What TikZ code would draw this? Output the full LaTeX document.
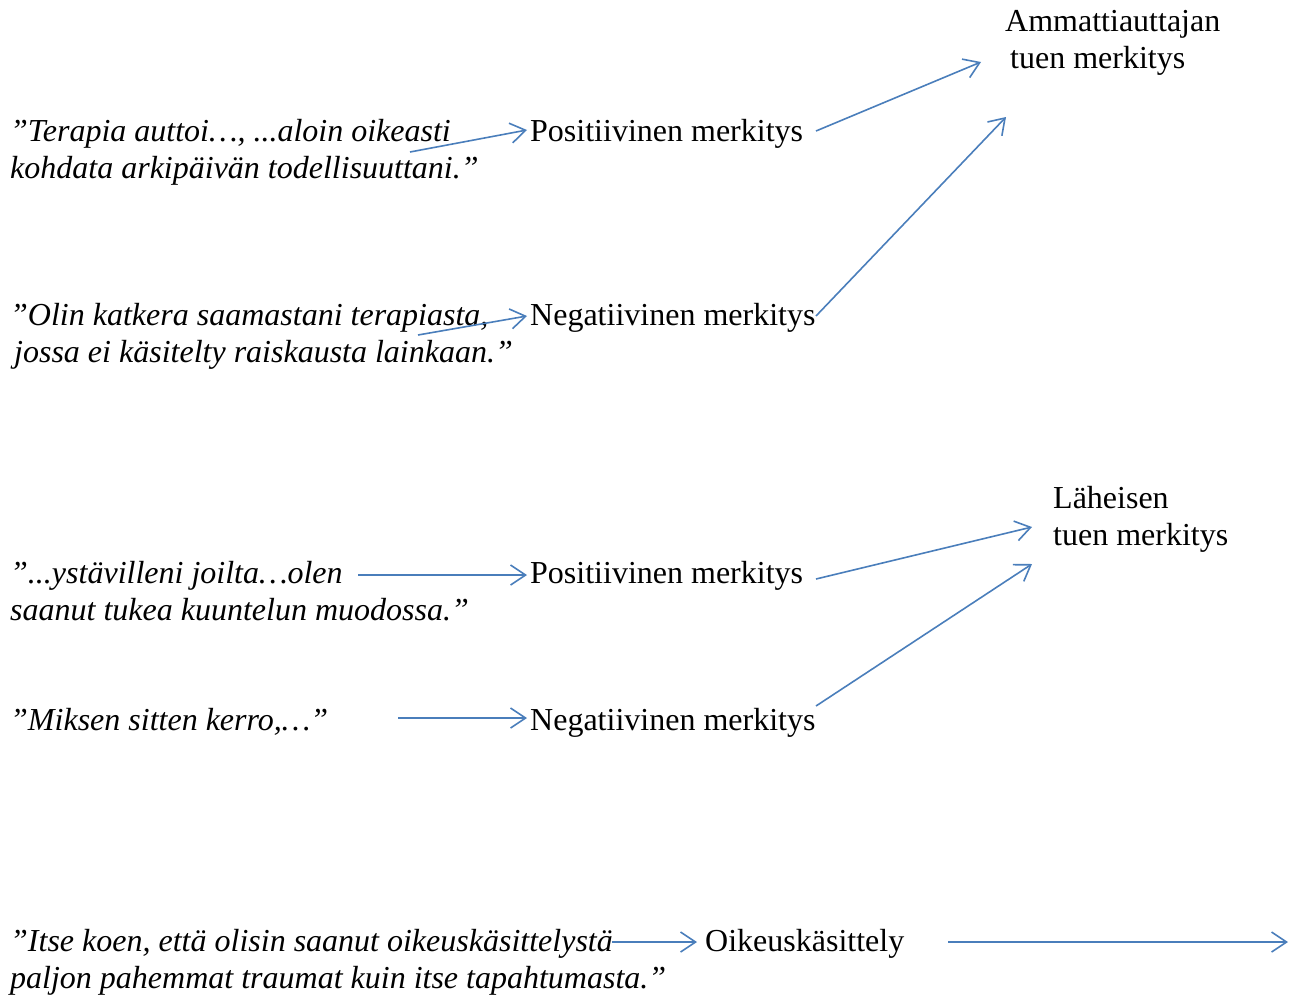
\documentclass[tikz,border=0pt]{standalone}
\usepackage{fontspec}
\setmainfont{Liberation Serif}
\usetikzlibrary{arrows.meta}
\definecolor{arrowblue}{RGB}{74,126,187}
\tikzset{
  txt/.style={anchor=base west, inner sep=0pt, font=\fontsize{32}{37}\selectfont},
  quote/.style={txt, font=\fontsize{32}{37}\selectfont\itshape},
  conn/.style={draw=arrowblue, line width=1.6pt, -{Straight Barb[length=15pt,width=20pt,line width=1.6pt]}}
}
\newcommand{\twolines}[2]{\begin{tabular}[t]{@{}l@{}}#1\\#2\end{tabular}}
\begin{document}
\begin{tikzpicture}[x=1pt,y=-1pt]
\useasboundingbox (0,0) rectangle (1295,996);
% targets
\node[txt] (amm) at (1005,31) {\twolines{Ammattiauttajan}{\hspace{5pt}tuen merkitys}};
\node[txt] (lah) at (1053,508) {\twolines{Läheisen}{tuen merkitys}};
% group 1
\node[quote] (q1) at (10,141) {\twolines{”Terapia auttoi…, ...aloin oikeasti}{kohdata arkipäivän todellisuuttani.”}};
\node[txt] (p1) at (530,141) {Positiivinen merkitys};
\node[quote] (q2) at (10,325) {\twolines{”Olin katkera saamastani terapiasta,}{\hspace{4pt}jossa ei käsitelty raiskausta lainkaan.”}};
\node[txt] (n1) at (530,325) {Negatiivinen merkitys};
% group 2
\node[quote] (q3) at (10,583) {\twolines{”...ystävilleni joilta…olen}{saanut tukea kuuntelun muodossa.”}};
\node[txt] (p2) at (530,583) {Positiivinen merkitys};
\node[quote] (q4) at (10,730) {”Miksen sitten kerro,…”};
\node[txt] (n2) at (530,730) {Negatiivinen merkitys};
% group 3
\node[quote] (q5) at (10,951) {\twolines{”Itse koen, että olisin saanut oikeuskäsittelystä}{paljon pahemmat traumat kuin itse tapahtumasta.”}};
\node[txt] (oik) at (705,951) {Oikeuskäsittely};
% connector coordinates
\coordinate (q1s) at (410,152);
\coordinate (p1e) at (527,130);
\coordinate (q2s) at (418,335);
\coordinate (n1e) at (527,316);
\coordinate (p1s) at (816,131);
\coordinate (amm1) at (981,62);
\coordinate (n1s) at (816,316);
\coordinate (amm2) at (1006,117);
\coordinate (q3s) at (358,575);
\coordinate (p2e) at (527,575);
\coordinate (q4s) at (398,718);
\coordinate (n2e) at (527,718);
\coordinate (p2s) at (816,579);
\coordinate (lah1) at (1032,527);
\coordinate (n2s) at (816,706);
\coordinate (lah2) at (1032,564);
\coordinate (q5s) at (612,942);
\coordinate (oike) at (697,942);
\coordinate (oiks) at (948,942);
\coordinate (oikend) at (1288,942);
% connectors
\draw[conn] (q1s) -- (p1e);
\draw[conn] (q2s) -- (n1e);
\draw[conn] (p1s) -- (amm1);
\draw[conn] (n1s) -- (amm2);
\draw[conn] (q3s) -- (p2e);
\draw[conn] (q4s) -- (n2e);
\draw[conn] (p2s) -- (lah1);
\draw[conn] (n2s) -- (lah2);
\draw[conn] (q5s) -- (oike);
\draw[conn] (oiks) -- (oikend);
\end{tikzpicture}
\end{document}
